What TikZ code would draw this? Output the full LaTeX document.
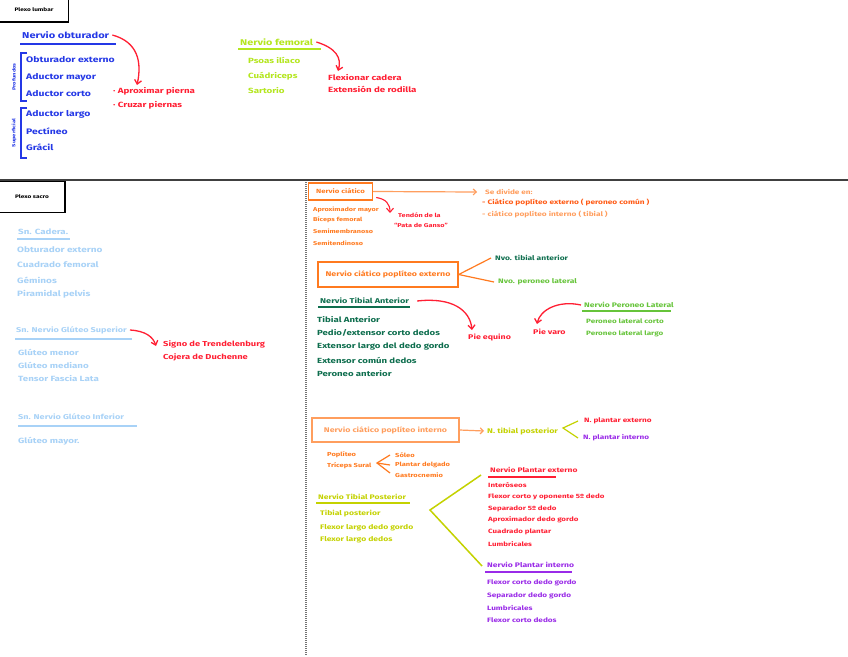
\documentclass[tikz,border=0pt]{standalone}
\usepackage{fontspec}
\setmainfont{Fira Sans}[FakeStretch=1.3]
\usetikzlibrary{arrows.meta}
\definecolor{cblue}{HTML}{2438E6}
\definecolor{clime}{HTML}{B4E61E}
\definecolor{cred}{HTML}{FF1F33}
\definecolor{clblue}{HTML}{A8D2F7}
\definecolor{corange}{HTML}{FF7A1F}
\definecolor{cdorange}{HTML}{FF5A14}
\definecolor{clorange}{HTML}{FF9E5E}
\definecolor{cdgreen}{HTML}{0E6E4E}
\definecolor{cgreen}{HTML}{66C43A}
\definecolor{colive}{HTML}{C4D200}
\definecolor{cpurple}{HTML}{9A2BE8}
\begin{document}
\begin{tikzpicture}[x=1pt,y=-1pt,
  txt/.style={anchor=west,inner sep=0pt,font=\bfseries\fontsize{#1}{#1}\selectfont},
  txt/.default=7.5,
  uline/.style={line width=1.3pt},
  redarrow/.style={cred,line width=1.3pt,-{Straight Barb[length=4pt,width=7pt]}},
  boxed/.style={draw,line width=1.4pt,inner sep=0pt,font=\bfseries\fontsize{#1}{#1}\selectfont},
  boxed/.default=7,
  thinline/.style={line width=1.2pt},
  plexbox/.style={draw=black,line width=1.5pt,inner sep=0pt,font=\bfseries\fontsize{5}{5}\selectfont}]
\useasboundingbox (0,0) rectangle (848,656);
\fill[white] (0,0) rectangle (848,656);

% ---------- frames ----------
\node[plexbox,minimum width=69pt,minimum height=24pt] (plumbar) at (34,10) {Plexo lumbar};
\draw[line width=1.6pt,black!75] (0,180) -- (848,180);
\node[plexbox,minimum width=66pt,minimum height=31pt] (psacro) at (32,197) {Plexo sacro};
\draw[black!55,line width=1.5pt,dash pattern=on 1pt off 1pt] (306,182) -- (306,656);

% ---------- Nervio obturador ----------
\begin{scope}[cblue]
\node[txt=8.5,cblue] (obt) at (22,35) {Nervio obturador};
\draw[uline] (20,44) -- (116,44);
\node[txt=8,cblue] (o1) at (26,60) {Obturador externo};
\node[txt=8,cblue] (o2) at (26,77) {Aductor mayor};
\node[txt=8,cblue] (o3) at (26,94) {Aductor corto};
\node[txt=8,cblue] (o4) at (26,114) {Aductor largo};
\node[txt=8,cblue] (o5) at (26,131) {Pectíneo};
\node[txt=8,cblue] (o6) at (26,147) {Grácil};
\draw[line width=1.2pt] (27,53) -- (21,53) -- (21,101) -- (27,101);
\draw[line width=1.2pt] (27,108) -- (21,108) -- (21,158) -- (27,158);
\node[txt=4.5,cblue,anchor=center,rotate=90] (prof) at (14,77) {Profundos};
\node[txt=4.5,cblue,anchor=center,rotate=90] (sup) at (14,133) {Superficial};
\end{scope}
\node[txt=7.5,cred] (apr) at (113,91) {· Aproximar pierna};
\node[txt=7.5,cred] (cruz) at (113,105) {· Cruzar piernas};
\coordinate (aprtip) at (137,85);
\draw[redarrow] ([xshift=3pt]obt.east) .. controls (138,42) and (142,62) .. (aprtip);

% ---------- Nervio femoral ----------
\node[txt=8.3,clime] (fem) at (240,42) {Nervio femoral};
\draw[uline,clime] (238,49) -- (321,49);
\node[txt=7.5,clime] (f1) at (248,60) {Psoas ilíaco};
\node[txt=7.5,clime] (f2) at (248,76) {Cuádriceps};
\node[txt=7.5,clime] (f3) at (248,91) {Sartorio};
\node[txt=7.5,cred] (flex) at (328,78) {Flexionar cadera};
\node[txt=7.5,cred] (ext) at (328,89) {Extensión de rodilla};
\coordinate (femtip) at (338,71);
\draw[redarrow] ([xshift=3pt]fem.east) .. controls (336,48) and (342,58) .. (femtip);

% ---------- Plexo sacro, left ----------
\node[txt=7.5,clblue] (cad) at (18,232) {Sn. Cadera.};
\draw[uline,clblue] (17,239) -- (70,239);
\node[txt=7.7,clblue] (c1) at (17,250) {Obturador externo};
\node[txt=7.7,clblue] (c2) at (17,265) {Cuadrado femoral};
\node[txt=7.7,clblue] (c3) at (17,280) {Géminos};
\node[txt=7.7,clblue] (c4) at (17,294) {Piramidal pelvis};

\node[txt=7,clblue] (gsup) at (16,330) {Sn. Nervio Glúteo Superior};
\draw[uline,clblue] (15,339) -- (132,339);
\node[txt=7.5,clblue] (g1) at (18,352) {Glúteo menor};
\node[txt=7.5,clblue] (g2) at (18,365) {Glúteo mediano};
\node[txt=7.5,clblue] (g3) at (18,379) {Tensor Fascia Lata};

\node[txt=7,clblue] (ginf) at (18,417) {Sn. Nervio Glúteo Inferior};
\draw[uline,clblue] (18,426) -- (137,426);
\node[txt=7.5,clblue] (g4) at (18,441) {Glúteo mayor.};

\node[txt=7.2,cred] (trend) at (163,344) {Signo de Trendelenburg};
\node[txt=7.2,cred] (duch) at (163,357) {Cojera de Duchenne};
\coordinate (gtip) at (156,346);
\draw[redarrow] ([xshift=3pt]gsup.east) .. controls (146,331) and (153,337) .. (gtip);

% ---------- Nervio ciático ----------
\node[boxed=6,corange,minimum width=64pt,minimum height=17pt] (ciat) at (340.5,191.5) {Nervio ciático};
\node[txt=6.3,clorange] (sediv) at (485,192) {Se divide en:};
\node[txt=6.4,cdorange] (sd1) at (482,202) {- Ciático poplíteo externo ( peroneo común )};
\node[txt=6.4,clorange] (sd2) at (482,214) {- ciático poplíteo interno ( tibial )};
\draw[clorange,thinline,-{Straight Barb[length=3pt,width=6pt]}] (ciat.east) -- ([xshift=-8pt]sediv.west);

\node[txt=5.6,corange] (s1) at (313,210) {Aproximador mayor};
\node[txt=5.6,corange] (s2) at (313,220) {Bíceps femoral};
\node[txt=5.6,corange] (s3) at (313,231) {Semimembranoso};
\node[txt=5.6,corange] (s4) at (313,243) {Semitendinoso};
\node[txt=5.6,cred] (tend) at (398,215) {Tendón de la};
\node[txt=5.6,cred] (pata) at (394,225) {“Pata de Ganso”};
\coordinate (tendtip) at (390,213);
\draw[redarrow,line width=1.1pt] ([xshift=3pt,yshift=-6pt]ciat.east) .. controls (386,199) and (390,204) .. (tendtip);

% ---------- Ciático poplíteo externo ----------
\node[boxed=6.8,corange,minimum width=140pt,minimum height=25pt] (cpe) at (388,274.5) {Nervio ciático poplíteo externo};
\node[txt=6.5,cdgreen] (nta) at (495,258) {Nvo. tibial anterior};
\node[txt=6.5,cgreen] (npl) at (498,282) {Nvo. peroneo lateral};
\draw[corange,thinline] (cpe.east) -- ([xshift=-4pt]nta.west);
\draw[corange,thinline] (cpe.east) -- ([xshift=-4pt]npl.west);

\node[txt=7,cdgreen] (tant) at (320,301) {Nervio Tibial Anterior};
\draw[uline,cdgreen] (318,307) -- (410,307);
\node[txt=7.4,cdgreen] (t1) at (317,320) {Tibial Anterior};
\node[txt=7.4,cdgreen] (t2) at (317,333) {Pedio/extensor corto dedos};
\node[txt=7.4,cdgreen] (t3) at (317,347) {Extensor largo del dedo gordo};
\node[txt=7.4,cdgreen] (t4) at (317,360) {Extensor común dedos};
\node[txt=7.4,cdgreen] (t5) at (317,374) {Peroneo anterior};

\node[txt=6.8,cred] (equino) at (468,337) {Pie equino};
\coordinate (eqtip) at (472,330);
\draw[redarrow] ([xshift=8pt]tant.east) .. controls (452,297) and (470,310) .. (eqtip);

\node[txt=6.6,cgreen] (perl) at (584,305) {Nervio Peroneo Lateral};
\draw[uline,cgreen] (582,311) -- (671,311);
\node[txt=6.2,cgreen] (p1) at (586,321) {Peroneo lateral corto};
\node[txt=6.2,cgreen] (p2) at (586,334) {Peroneo lateral largo};
\node[txt=6.8,cred] (varo) at (533,332) {Pie varo};
\coordinate (varotip) at (537,324);
\draw[redarrow] ([xshift=-3pt]perl.west) .. controls (558,300) and (540,310) .. (varotip);

% ---------- Ciático poplíteo interno ----------
\node[boxed=6.8,clorange,minimum width=147pt,minimum height=24pt] (cpi) at (385.5,430) {Nervio ciático poplíteo interno};
\node[txt=6.8,colive] (tpos) at (487,431) {N. tibial posterior};
\draw[clorange,thinline,-{Straight Barb[length=3pt,width=6pt]}] (cpi.east) -- ([xshift=-3pt]tpos.west);
\node[txt=6.3,cred] (pext) at (584,421) {N. plantar externo};
\node[txt=6.3,cpurple] (pint) at (583,438) {N. plantar interno};
\coordinate (v1) at (563,428);
\draw[colive,thinline] ([xshift=-6pt]pext.west) -- (v1) -- ([xshift=-5pt]pint.west);

\node[txt=5.8,corange] (pop) at (327,455) {Poplíteo};
\node[txt=5.8,corange] (tric) at (327,466) {Tríceps Sural};
\node[txt=5.8,corange] (sol) at (395,455) {Sóleo};
\node[txt=5.8,corange] (pld) at (395,465) {Plantar delgado};
\node[txt=5.8,corange] (gas) at (395,475) {Gastrocnemio};
\coordinate (v2) at (377,463);
\draw[corange,thinline] ([xshift=-5pt]sol.west) -- (v2) -- ([xshift=-5pt,yshift=2pt]gas.west);
\draw[corange,thinline] (v2) -- ([xshift=-5pt]pld.west);

\node[txt=6.6,colive] (tpt) at (318,497) {Nervio Tibial Posterior};
\draw[uline,colive] (316,503) -- (410,503);
\node[txt=6.6,colive] (tp1) at (320,514) {Tibial posterior};
\node[txt=6.6,colive] (tp2) at (320,528) {Flexor largo dedo gordo};
\node[txt=6.6,colive] (tp3) at (320,540) {Flexor largo dedos};

% ---------- Plantares ----------
\node[txt=6.5,cred] (npe) at (490,470) {Nervio Plantar externo};
\draw[uline,cred] (488,477) -- (556,477);
\node[txt=6.1,cred] (e1) at (488,485) {Interóseos};
\node[txt=6.1,cred] (e2) at (488,497) {Flexor corto y oponente 5º dedo};
\node[txt=6.1,cred] (e3) at (488,509) {Separador 5º dedo};
\node[txt=6.1,cred] (e4) at (488,520) {Aproximador dedo gordo};
\node[txt=6.1,cred] (e5) at (488,532) {Cuadrado plantar};
\node[txt=6.1,cred] (e6) at (488,544) {Lumbricales};

\node[txt=6.6,cpurple] (npi) at (487,565) {Nervio Plantar interno};
\draw[uline,cpurple] (485,572) -- (572,572);
\node[txt=6.3,cpurple] (i1) at (487,583) {Flexor corto dedo gordo};
\node[txt=6.3,cpurple] (i2) at (487,596) {Separador dedo gordo};
\node[txt=6.3,cpurple] (i3) at (487,608) {Lumbricales};
\node[txt=6.3,cpurple] (i4) at (487,620) {Flexor corto dedos};

\coordinate (bv) at (430,510);
\draw[colive,line width=1.5pt] ([xshift=-9pt,yshift=-5pt]npe.west) -- (bv) -- ([xshift=-5pt,yshift=-1pt]npi.west);
\end{tikzpicture}
\end{document}
